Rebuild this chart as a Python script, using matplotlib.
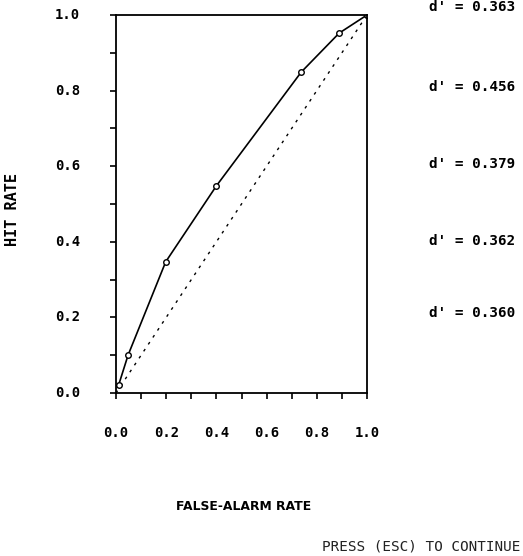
import matplotlib
matplotlib.use('Agg')
import matplotlib.pyplot as plt
import numpy as np

# ROC points
far = [0.01, 0.048, 0.198, 0.40, 0.738, 0.889, 1.0]
hit = [0.02, 0.10, 0.347, 0.548, 0.849, 0.952, 1.0]
chance = [0.0, 1.0]
dprime = ['0.363', '0.456', '0.379', '0.362', '0.360']
dprime_y = [7, 87, 164, 241, 313]  # pixel rows of the d' labels
ticks = [0.0, 0.2, 0.4, 0.6, 0.8, 1.0]
minor = np.arange(0, 1.01, 0.1)

W, H = 523, 556
fig = plt.figure(figsize=(W / 100, H / 100), dpi=100)
ax = fig.add_axes([116 / W, (H - 393) / H, 251 / W, 378 / H])

ax.plot(chance, chance, color='black', lw=1.0, ls=(0, (2, 4)))
ax.plot(far, hit, color='black', lw=1.2, marker='o', ms=4,
        mfc='white', mec='black', mew=1.0)

ax.set_xlim(0, 1)
ax.set_ylim(0, 1)
for s in ax.spines.values():
    s.set_linewidth(1.3)

ax.set_xticks(minor)
ax.set_yticks(minor)
ax.set_xticklabels([])
ax.set_yticklabels([])
ax.tick_params(direction='out', length=4, width=1.2)

mono = dict(family='DejaVu Sans Mono', weight='bold', fontsize=10)
for t in ticks:
    ax.text(t, -0.105, f'{t:.1f}', ha='center', va='center', **mono)
    ax.text(-0.143, t, f'{t:.1f}', ha='right', va='center',
            transform=ax.transAxes, **mono)

for val, py in zip(dprime, dprime_y):
    fig.text(472 / W, 1 - py / H, f"d' = {val}", ha='center', va='center',
             family='DejaVu Sans Mono', weight='bold', fontsize=10.3)

fig.text(13 / W, 1 - 210 / H, 'HIT RATE', rotation=90, ha='center',
         va='center', family='DejaVu Sans Mono', weight='bold', fontsize=11)
fig.text(244 / W, 1 - 507 / H, 'FALSE-ALARM RATE', ha='center', va='center',
         family='DejaVu Sans', weight='bold', fontsize=8.9)
fig.text(421 / W, 1 - 546 / H, 'PRESS (ESC) TO CONTINUE', ha='center',
         va='center', family='DejaVu Sans Mono', fontsize=10.3,
         color='#222222')

fig.savefig('out.png', dpi=100)
